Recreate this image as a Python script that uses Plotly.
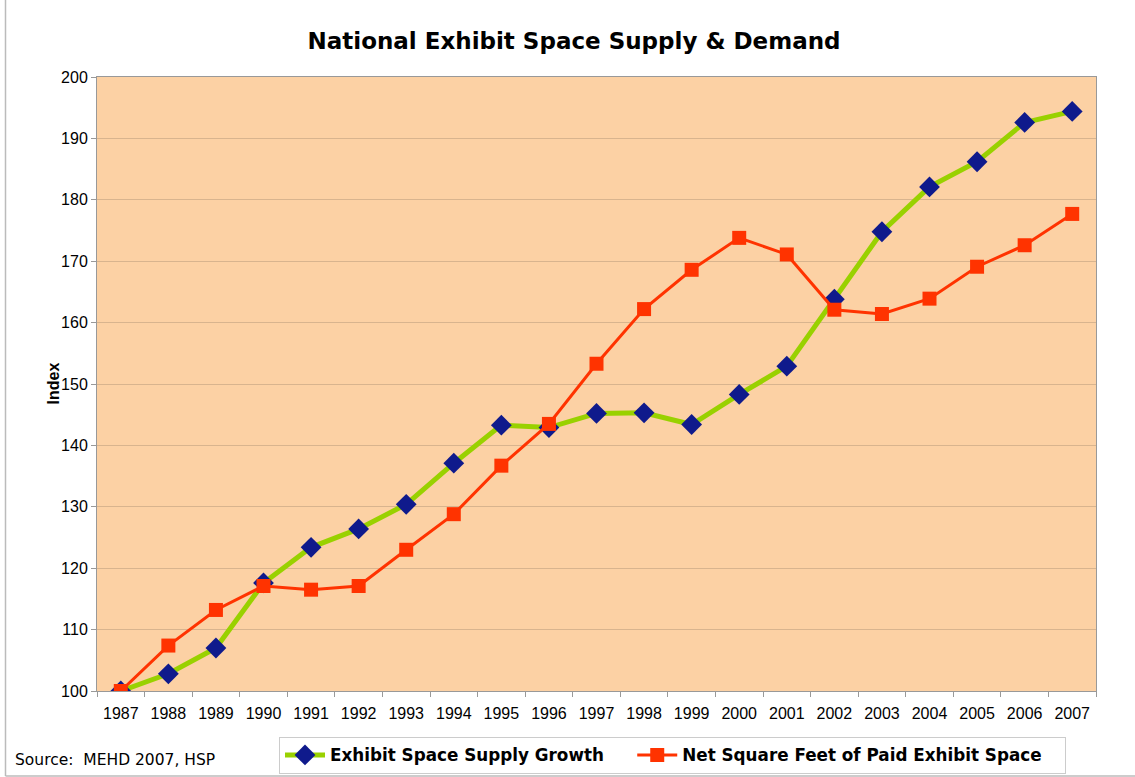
import plotly.graph_objects as go

years = [str(y) for y in range(1987, 2008)]
supply = [100, 102.8, 107.0, 117.6, 123.4, 126.4, 130.4, 137.1, 143.3, 142.9, 145.2,
          145.3, 143.4, 148.3, 152.9, 163.8, 174.8, 182.1, 186.2, 192.6, 194.4]
demand = [100, 107.4, 113.2, 117.1, 116.5, 117.1, 123.0, 128.8, 136.7, 143.5, 153.3,
          162.2, 168.6, 173.8, 171.1, 162.1, 161.4, 163.9, 169.1, 172.6, 177.7]
y_ticks = [100, 110, 120, 130, 140, 150, 160, 170, 180, 190, 200]

NB = "\u00a0"

fig = go.Figure()
fig.add_trace(go.Scatter(
    x=years, y=supply, mode="lines+markers",
    name="Exhibit Space Supply Growth" + NB * 4,
    line=dict(color="#99D100", width=5),
    marker=dict(symbol="diamond", size=16, color="#0F1A8C", line=dict(width=0)),
))
fig.add_trace(go.Scatter(
    x=years, y=demand, mode="lines+markers",
    name="Net Square Feet of Paid Exhibit Space" + NB * 3,
    line=dict(color="#FF3300", width=3),
    marker=dict(symbol="square", size=14, color="#FF3300", line=dict(width=0)),
))

fig.update_layout(
    width=1135, height=777,
    margin=dict(l=97, r=39, t=77, b=86, autoexpand=False),
    paper_bgcolor="white",
    plot_bgcolor="#FCD1A4",
    title=dict(text="<b>National Exhibit Space Supply &amp; Demand</b>",
               x=574 / 1135, xanchor="center", y=1 - 41 / 777, yanchor="middle",
               font=dict(family="DejaVu Sans", size=23, color="black")),
    font=dict(family="Liberation Sans, Arial", size=16, color="black"),
    showlegend=True,
    legend=dict(orientation="h", xref="container", yref="container",
                x=279 / 1135, xanchor="left",
                y=1 - 755 / 777, yanchor="middle",
                bordercolor="#CCCCCC", borderwidth=1, bgcolor="white",
                font=dict(family="DejaVu Sans", size=16.8, color="black", weight="bold"),
                itemwidth=40, tracegroupgap=0),
    xaxis=dict(type="category", tickson="boundaries", ticks="outside", ticklen=5,
               tickcolor="#999999", showline=True, linecolor="#999999", linewidth=1,
               mirror=True, showgrid=False, tickfont=dict(size=16),
               ticklabelstandoff=8, range=[-0.5, 20.5]),
    yaxis=dict(range=[100, 200], tickvals=y_ticks, ticks="outside", ticklen=5,
               tickcolor="#999999", showline=True, linecolor="#999999", linewidth=1,
               mirror=True, showgrid=True, gridcolor="#D8B48E", gridwidth=1,
               zeroline=False, tickfont=dict(size=16)),
    annotations=[
        dict(text="<b>Index</b>", x=(42 - 97) / 999, y=0.5, xref="paper", yref="paper",
             textangle=-90, showarrow=False, font=dict(size=16, family="Liberation Sans")),
        dict(text="Source:  MEHD 2007, HSP", x=(13 - 97) / 999, y=(691 - 760) / 614,
             xref="paper", yref="paper", xanchor="left", yanchor="middle",
             showarrow=False, font=dict(size=15.5, family="DejaVu Sans")),
    ],
    shapes=[
        dict(type="line", xref="paper", yref="paper",
             x0=(5.5 - 97) / 999, x1=(5.5 - 97) / 999, y0=(691 - 0) / 614, y1=(691 - 776) / 614,
             line=dict(color="#BBBBBB", width=1.5)),
        dict(type="line", xref="paper", yref="paper",
             x0=(5.5 - 97) / 999, x1=(1135 - 97) / 999, y0=(691 - 776) / 614, y1=(691 - 776) / 614,
             line=dict(color="#BBBBBB", width=1.5)),
    ],
)

fig.write_html("out.html", config={"displayModeBar": False},
               post_script="document.body.style.margin='0';document.body.style.padding='0';")
